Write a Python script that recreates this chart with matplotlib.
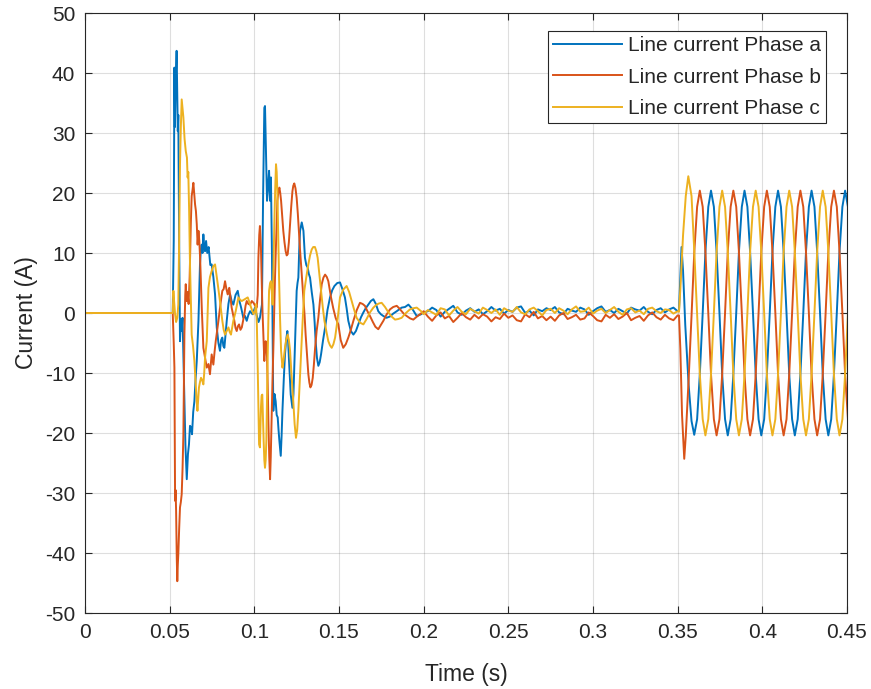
import matplotlib
matplotlib.use("Agg")
import matplotlib.pyplot as plt
import numpy as np

plt.rcParams["font.family"] = ["Liberation Sans", "DejaVu Sans"]
plt.rcParams["axes.unicode_minus"] = False

# ---------------------------------------------------------------------------
# Values (time in s, current in A)
# ---------------------------------------------------------------------------

# before the first fault: all three phases sit at zero
t_pre = [0.0, 0.0518]
i_pre = [0.0, 0.0]

# transient after the two switching events (0.052 s and 0.103 s)
ta_tr = [0.0518, 0.0524, 0.0528, 0.0531, 0.0535, 0.0541, 0.0545, 0.0548, 0.0551, 0.0556,
         0.0561, 0.0566, 0.0571, 0.0576, 0.0585, 0.0593, 0.0601, 0.0608, 0.0614, 0.0620,
         0.0626, 0.0632, 0.0639, 0.0646, 0.0653, 0.0660, 0.0670, 0.0679, 0.0684, 0.0689,
         0.0694, 0.0699, 0.0704, 0.0709, 0.0715, 0.0722, 0.0730, 0.0740, 0.0748, 0.0758,
         0.0768, 0.0778, 0.0788, 0.0797, 0.0804, 0.0811, 0.0817, 0.0823, 0.0830, 0.0837,
         0.0847, 0.0857, 0.0866, 0.0876, 0.0889, 0.0902, 0.0912, 0.0922, 0.0935, 0.0945,
         0.0955, 0.0965, 0.0975, 0.0989, 0.1004, 0.1015, 0.1025, 0.1033, 0.1045, 0.1052,
         0.1059, 0.1063, 0.1068, 0.1075, 0.1081, 0.1087, 0.1093, 0.1098, 0.1104, 0.1112,
         0.1119, 0.1126, 0.1132, 0.1138, 0.1143, 0.1148, 0.1156, 0.1161, 0.1166, 0.1174,
         0.1181, 0.1188, 0.1195, 0.1200, 0.1205, 0.1215, 0.1225, 0.1231, 0.1236, 0.1243,
         0.1250, 0.1255, 0.1260, 0.1265, 0.1270, 0.1280, 0.1290, 0.1299, 0.1307, 0.1315,
         0.1322, 0.1329, 0.1339, 0.1349, 0.1356, 0.1362, 0.1370, 0.1378, 0.1386, 0.1394,
         0.1406, 0.1418, 0.1432, 0.1447, 0.1460, 0.1473, 0.1490, 0.1506, 0.1520, 0.1535,
         0.1545, 0.1555, 0.1570, 0.1585, 0.1600, 0.1614, 0.1630, 0.1644, 0.1658, 0.1673,
         0.1688, 0.1703, 0.1718, 0.1732, 0.1747, 0.1762, 0.1780, 0.1800, 0.1820, 0.1841,
         0.1870, 0.1890, 0.1910, 0.1935, 0.1959, 0.1985, 0.2000]
ia_tr = [0.0, 12.0, 40.9, 31.0, 38.0, 43.7, 36.0, 30.3, 33.0, 12.0,
         -4.7, -1.0, -3.0, -0.8, -12.0, -22.0, -27.7, -23.5, -21.9, -18.8,
         -19.1, -20.2, -16.5, -14.7, -11.0, -8.0, -1.3, 8.1, 10.5, 11.4,
         10.0, 13.1, 11.0, 10.3, 12.0, 10.0, 11.0, 8.0, 8.1, 6.0,
         3.1, -2.4, -5.0, -6.3, -4.5, -4.1, -5.5, -5.8, -3.5, -1.3,
         1.5, 3.1, 2.0, 1.4, 3.0, 3.7, 2.0, 0.9, -0.8, -0.5,
         -1.3, -0.3, 0.3, -0.2, 0.9, -0.5, -1.5, -0.8, 1.4, 20.0,
         34.2, 34.5, 28.0, 18.7, 21.0, 23.7, 18.7, 22.6, 10.0, -16.3,
         -13.5, -14.7, -17.0, -17.4, -19.5, -21.3, -23.8, -20.5, -16.3, -11.0,
         -6.9, -4.5, -3.0, -5.0, -8.0, -13.6, -15.8, -13.5, -9.1, -3.0,
         3.7, 5.0, 5.9, 10.5, 13.7, 15.1, 13.7, 9.2, 8.0, 7.6,
         6.5, 5.9, 3.5, 1.4, -1.5, -4.7, -7.5, -8.8, -8.2, -6.9,
         -4.5, -2.4, 0.5, 2.6, 3.8, 4.5, 5.0, 5.1, 4.0, 2.6,
         0.8, -1.3, -3.0, -3.6, -3.0, -1.9, -0.7, 0.1, 0.8, 1.4,
         2.0, 2.3, 1.5, 0.3, -0.2, -0.5, -0.8, -0.6, -0.1, 0.3,
         0.9, 1.0, 1.4, 0.6, -0.5, -0.2, 0.1]

tb_tr = [0.0518, 0.0524, 0.0528, 0.0532, 0.0535, 0.0538, 0.0542, 0.0545, 0.0548, 0.0551,
         0.0556, 0.0561, 0.0566, 0.0571, 0.0576, 0.0581, 0.0587, 0.0592, 0.0595, 0.0600,
         0.0605, 0.0612, 0.0618, 0.0625, 0.0630, 0.0635, 0.0640, 0.0645, 0.0650, 0.0655,
         0.0660, 0.0665, 0.0670, 0.0675, 0.0680, 0.0690, 0.0699, 0.0709, 0.0719, 0.0729,
         0.0738, 0.0743, 0.0748, 0.0753, 0.0758, 0.0765, 0.0772, 0.0780, 0.0788, 0.0800,
         0.0811, 0.0819, 0.0827, 0.0835, 0.0843, 0.0848, 0.0852, 0.0859, 0.0866, 0.0875,
         0.0882, 0.0889, 0.0896, 0.0903, 0.0910, 0.0918, 0.0926, 0.0934, 0.0941, 0.0948,
         0.0955, 0.0965, 0.0975, 0.0985, 0.0995, 0.1005, 0.1014, 0.1020, 0.1024, 0.1029,
         0.1033, 0.1036, 0.1039, 0.1043, 0.1048, 0.1053, 0.1059, 0.1063, 0.1067, 0.1071,
         0.1075, 0.1079, 0.1083, 0.1088, 0.1093, 0.1097, 0.1102, 0.1107, 0.1112, 0.1117,
         0.1122, 0.1129, 0.1136, 0.1142, 0.1148, 0.1153, 0.1158, 0.1165, 0.1171, 0.1178,
         0.1185, 0.1191, 0.1197, 0.1204, 0.1211, 0.1218, 0.1225, 0.1230, 0.1236, 0.1243,
         0.1250, 0.1257, 0.1264, 0.1270, 0.1276, 0.1283, 0.1290, 0.1297, 0.1303, 0.1311,
         0.1319, 0.1325, 0.1331, 0.1338, 0.1345, 0.1352, 0.1359, 0.1368, 0.1378, 0.1388,
         0.1398, 0.1408, 0.1418, 0.1428, 0.1437, 0.1445, 0.1453, 0.1466, 0.1480, 0.1496,
         0.1510, 0.1525, 0.1540, 0.1555, 0.1570, 0.1585, 0.1605, 0.1624, 0.1640, 0.1653,
         0.1668, 0.1683, 0.1700, 0.1715, 0.1732, 0.1747, 0.1762, 0.1780, 0.1801, 0.1820,
         0.1841, 0.1855, 0.1870, 0.1885, 0.1900, 0.1920, 0.1939, 0.1960, 0.1979, 0.2000]
ib_tr = [0.0, -5.0, -9.1, -31.3, -29.5, -33.0, -41.0, -44.7, -42.0, -40.2,
         -36.0, -32.4, -31.5, -30.2, -26.0, -20.2, -3.6, 3.0, 4.8, 2.0,
         3.5, 1.5, 6.0, 15.0, 19.5, 20.5, 21.7, 20.0, 18.1, 17.0,
         14.8, 11.4, 13.7, 12.0, 9.0, 0.5, -5.8, -7.5, -9.1, -8.5,
         -10.2, -8.5, -6.9, -7.8, -8.6, -6.5, -4.7, -3.0, -1.3, 1.5,
         3.7, 4.0, 5.3, 4.0, 3.1, 3.8, 4.2, 2.5, 0.9, -0.3,
         -1.3, -2.5, -3.0, -2.2, -1.9, -2.8, -2.4, -1.2, -0.2, 1.2,
         2.0, 1.5, 1.4, 2.0, 1.7, 1.2, 0.9, 3.0, 9.2, 13.0,
         14.5, 12.5, 10.9, 5.9, 0.5, -3.6, -8.0, -5.5, -4.7, -6.0,
         -7.4, -12.0, -18.0, -24.0, -27.7, -24.0, -17.4, -11.5, -6.3, 0.0,
         5.9, 12.5, 18.7, 20.2, 20.9, 20.0, 18.7, 16.0, 13.7, 11.8,
         10.3, 9.6, 9.8, 11.8, 14.8, 17.8, 20.3, 21.2, 21.6, 20.8,
         19.2, 16.5, 13.1, 10.5, 8.1, 5.5, 2.6, -0.5, -3.6, -7.0,
         -10.2, -11.6, -12.4, -12.0, -10.8, -8.5, -5.8, -3.0, -0.8, 2.2,
         4.8, 5.9, 6.4, 6.0, 5.3, 4.0, 2.6, 0.8, -0.8, -1.9,
         -4.5, -5.8, -5.2, -4.1, -2.8, -1.3, 0.5, 1.7, 1.5, 1.2,
         0.3, -0.5, -1.5, -2.3, -2.7, -2.0, -1.3, -0.3, 0.6, 1.0,
         1.2, 0.8, 0.3, -0.2, -0.5, -0.9, -1.1, -0.6, -0.2, 0.3]

tc_tr = [0.0518, 0.0522, 0.0526, 0.0532, 0.0538, 0.0545, 0.0551, 0.0556, 0.0561, 0.0566,
         0.0571, 0.0576, 0.0581, 0.0588, 0.0595, 0.0602, 0.0606, 0.0610, 0.0615, 0.0620,
         0.0625, 0.0630, 0.0638, 0.0646, 0.0654, 0.0659, 0.0664, 0.0668, 0.0673, 0.0679,
         0.0685, 0.0692, 0.0699, 0.0704, 0.0709, 0.0719, 0.0724, 0.0729, 0.0738, 0.0748,
         0.0758, 0.0768, 0.0776, 0.0784, 0.0797, 0.0804, 0.0811, 0.0819, 0.0827, 0.0837,
         0.0847, 0.0855, 0.0862, 0.0869, 0.0876, 0.0890, 0.0906, 0.0916, 0.0926, 0.0943,
         0.0961, 0.0971, 0.0981, 0.0995, 0.1004, 0.1010, 0.1015, 0.1020, 0.1025, 0.1028,
         0.1033, 0.1036, 0.1039, 0.1043, 0.1047, 0.1051, 0.1055, 0.1059, 0.1063, 0.1067,
         0.1071, 0.1075, 0.1079, 0.1083, 0.1087, 0.1093, 0.1098, 0.1103, 0.1108, 0.1113,
         0.1118, 0.1123, 0.1128, 0.1132, 0.1136, 0.1141, 0.1146, 0.1152, 0.1158, 0.1166,
         0.1173, 0.1181, 0.1189, 0.1197, 0.1204, 0.1211, 0.1220, 0.1230, 0.1238, 0.1246,
         0.1253, 0.1260, 0.1268, 0.1276, 0.1285, 0.1295, 0.1307, 0.1319, 0.1329, 0.1339,
         0.1348, 0.1358, 0.1366, 0.1374, 0.1384, 0.1394, 0.1404, 0.1414, 0.1425, 0.1437,
         0.1447, 0.1457, 0.1467, 0.1477, 0.1492, 0.1506, 0.1525, 0.1545, 0.1560, 0.1575,
         0.1590, 0.1604, 0.1624, 0.1644, 0.1663, 0.1683, 0.1703, 0.1722, 0.1737, 0.1752,
         0.1772, 0.1792, 0.1811, 0.1831, 0.1850, 0.1870, 0.1895, 0.1919, 0.1940, 0.1959,
         0.1985, 0.2000]
ic_tr = [0.0, 3.7, 2.0, -0.2, -1.5, -0.8, 1.4, 12.0, 24.8, 31.0,
         35.6, 34.0, 32.6, 29.0, 27.0, 25.9, 22.6, 23.5, 17.0, 8.1,
         2.0, -3.6, -5.5, -8.0, -11.9, -14.5, -16.3, -14.5, -12.4, -11.5,
         -10.8, -11.2, -11.9, -10.0, -7.4, -4.7, 0.0, 4.2, 6.0, 7.0,
         7.8, 8.1, 6.5, 4.8, 2.0, 0.3, -1.3, -2.8, -3.6, -3.0,
         -2.4, -3.2, -3.6, -2.5, -1.3, 0.3, 2.6, 2.2, 2.0, 2.3,
         2.6, 1.8, 0.9, -0.2, 0.3, 1.5, -2.0, -9.1, -17.5, -21.9,
         -22.4, -19.0, -15.8, -13.8, -13.6, -17.5, -21.3, -24.5, -25.8, -24.5,
         -21.3, -14.0, -6.9, -1.0, 3.7, 5.0, 5.3, 3.5, 1.4, 7.5,
         14.8, 20.5, 24.8, 23.5, 20.3, 13.0, 5.9, -1.0, -6.3, -9.1,
         -7.8, -5.8, -4.3, -3.6, -4.5, -6.3, -10.5, -14.7, -18.5, -20.8,
         -19.5, -16.3, -11.5, -6.9, -1.5, 3.7, 6.0, 8.1, 9.6, 10.6,
         11.0, 11.0, 10.3, 9.2, 6.5, 3.7, 1.0, -1.3, -3.0, -4.7,
         -5.4, -5.8, -5.2, -4.1, -1.0, 2.6, 3.9, 4.5, 3.5, 2.0,
         0.5, -0.8, -1.6, -1.9, -1.0, 0.1, 0.9, 1.4, 1.6, 1.7,
         1.0, 0.1, -0.6, -1.1, -1.0, -0.8, 0.0, 0.6, 0.8, 0.9,
         0.3, -0.2]

# quiet interval 0.2 - 0.35 s: small ripple around zero, one sample every 2.5 ms
t_quiet = [0.2025, 0.2050, 0.2075, 0.2100, 0.2125, 0.2150, 0.2175, 0.2200, 0.2225, 0.2250,
           0.2275, 0.2300, 0.2325, 0.2350, 0.2375, 0.2400, 0.2425, 0.2450, 0.2475, 0.2500,
           0.2525, 0.2550, 0.2575, 0.2600, 0.2625, 0.2650, 0.2675, 0.2700, 0.2725, 0.2750,
           0.2775, 0.2800, 0.2825, 0.2850, 0.2875, 0.2900, 0.2925, 0.2950, 0.2975, 0.3000,
           0.3025, 0.3050, 0.3075, 0.3100, 0.3125, 0.3150, 0.3175, 0.3200, 0.3225, 0.3250,
           0.3275, 0.3300, 0.3325, 0.3350, 0.3375, 0.3400, 0.3425, 0.3450, 0.3475, 0.3500]
ia_quiet = [0.3, 0.9, 0.5, -0.6, 0.2, 0.7, 1.2, 0.1, -0.3, 0.4,
            0.8, 0.2, 0.6, -0.2, 0.3, 1.0, 0.4, 0.7, -0.1, 0.5,
            0.2, 0.9, 1.1, 0.0, 0.4, -0.4, 0.6, 0.3, 0.8, 0.5,
            1.0, 0.1, -0.2, 0.7, 0.4, 0.2, 0.9, 0.6, -0.3, 0.3,
            0.8, 1.1, 0.2, 0.5, 0.0, 0.7, 0.3, -0.1, 0.9, 0.6,
            0.4, 1.0, 0.2, -0.2, 0.5, 0.8, 0.1, 0.6, 0.9, 0.3]
ib_quiet = [-0.6, -1.3, -0.4, 0.1, -0.9, -0.5, -1.5, -0.8, 0.0, -0.7,
            -1.1, -0.3, -0.9, -0.2, -0.6, -1.4, -0.7, -1.0, -0.1, -0.8,
            -0.4, -1.2, -1.4, -0.2, -0.7, 0.2, -0.9, -0.5, -1.2, -0.6,
            -1.3, -0.4, 0.0, -1.0, -0.7, -0.3, -1.1, -0.9, 0.1, -0.5,
            -1.2, -1.4, -0.3, -0.8, -0.2, -1.0, -0.6, 0.0, -1.2, -0.8,
            -0.5, -1.3, -0.4, 0.1, -0.7, -1.1, -0.3, -0.9, -1.2, -0.4]
ic_quiet = [0.5, 0.1, -0.3, 0.8, 0.6, -0.4, 0.4, 1.0, 0.2, -0.2,
            0.7, 0.3, -0.1, 0.9, 0.5, 0.0, 0.6, -0.3, 0.8, 0.4,
            0.2, 1.0, 0.1, -0.2, 0.6, 0.9, 0.3, -0.4, 0.5, 0.7,
            0.0, 0.8, 0.4, -0.2, 0.6, 1.1, 0.2, 0.3, 0.9, -0.1,
            0.4, 0.7, 0.0, 0.5, 1.0, 0.2, -0.3, 0.6, 0.8, 0.1,
            0.4, -0.2, 0.7, 0.9, 0.3, 0.0, 0.6, 0.5, -0.1, 0.3]

# re-energising at ~0.351 s
ta_start = [0.3508, 0.3516, 0.3523, 0.3532, 0.3545, 0.3565, 0.3582, 0.3598]
ia_start = [0.4, 6.0, 11.0, 7.0, -2.0, -12.0, -18.0, -20.3]
tb_start = [0.3508, 0.3516, 0.3526, 0.3539, 0.3548, 0.3565, 0.3582, 0.3598]
ib_start = [-0.4, -6.0, -17.0, -24.3, -20.5, -11.0, -0.5, 10.0]
tc_start = [0.3508, 0.3516, 0.3532, 0.3548, 0.3563, 0.3582, 0.3598]
ic_start = [0.2, 4.0, 13.0, 19.5, 22.8, 19.5, 10.5]

# steady state 50 Hz, ~20.4 A peak, read every 1/12 of a period
t_ss = [0.3615, 0.3631, 0.3648, 0.3664, 0.3681, 0.3697, 0.3714, 0.3730, 0.3747, 0.3763,
        0.3780, 0.3796, 0.3813, 0.3829, 0.3846, 0.3862, 0.3879, 0.3895, 0.3912, 0.3928,
        0.3945, 0.3961, 0.3978, 0.3994, 0.4011, 0.4027, 0.4044, 0.4060, 0.4077, 0.4093,
        0.4110, 0.4126, 0.4143, 0.4159, 0.4176, 0.4192, 0.4209, 0.4225, 0.4242, 0.4258,
        0.4275, 0.4291, 0.4308, 0.4324, 0.4341, 0.4357, 0.4374, 0.4390, 0.4407, 0.4423,
        0.4440, 0.4456, 0.4473, 0.4489, 0.4506]
ia_ss = [-17.7, -10.2, 0.0, 10.2, 17.7, 20.4, 17.7, 10.2, 0.0, -10.2,
         -17.7, -20.4, -17.7, -10.2, 0.0, 10.2, 17.7, 20.4, 17.7, 10.2,
         0.0, -10.2, -17.7, -20.4, -17.7, -10.2, 0.0, 10.2, 17.7, 20.4,
         17.7, 10.2, 0.0, -10.2, -17.7, -20.4, -17.7, -10.2, 0.0, 10.2,
         17.7, 20.4, 17.7, 10.2, 0.0, -10.2, -17.7, -20.4, -17.7, -10.2,
         0.0, 10.2, 17.7, 20.4, 17.7]
ib_ss = [17.7, 20.4, 17.7, 10.2, 0.0, -10.2, -17.7, -20.4, -17.7, -10.2,
         0.0, 10.2, 17.7, 20.4, 17.7, 10.2, 0.0, -10.2, -17.7, -20.4,
         -17.7, -10.2, 0.0, 10.2, 17.7, 20.4, 17.7, 10.2, 0.0, -10.2,
         -17.7, -20.4, -17.7, -10.2, 0.0, 10.2, 17.7, 20.4, 17.7, 10.2,
         0.0, -10.2, -17.7, -20.4, -17.7, -10.2, 0.0, 10.2, 17.7, 20.4,
         17.7, 10.2, 0.0, -10.2, -17.7]
ic_ss = [0.0, -10.2, -17.7, -20.4, -17.7, -10.2, 0.0, 10.2, 17.7, 20.4,
         17.7, 10.2, 0.0, -10.2, -17.7, -20.4, -17.7, -10.2, 0.0, 10.2,
         17.7, 20.4, 17.7, 10.2, 0.0, -10.2, -17.7, -20.4, -17.7, -10.2,
         0.0, 10.2, 17.7, 20.4, 17.7, 10.2, 0.0, -10.2, -17.7, -20.4,
         -17.7, -10.2, 0.0, 10.2, 17.7, 20.4, 17.7, 10.2, 0.0, -10.2,
         -17.7, -20.4, -17.7, -10.2, 0.0]

labels = ["Line current Phase a", "Line current Phase b", "Line current Phase c"]
colors = ["#0072BD", "#D95319", "#EDB120"]

x_ticks = [0, 0.05, 0.1, 0.15, 0.2, 0.25, 0.3, 0.35, 0.4, 0.45]
x_tick_labels = ["0", "0.05", "0.1", "0.15", "0.2", "0.25", "0.3", "0.35", "0.4", "0.45"]
y_ticks = [-50, -40, -30, -20, -10, 0, 10, 20, 30, 40, 50]

# ---------------------------------------------------------------------------
phases = [
    (t_pre + ta_tr + t_quiet + ta_start + t_ss, i_pre + ia_tr + ia_quiet + ia_start + ia_ss),
    (t_pre + tb_tr + t_quiet + tb_start + t_ss, i_pre + ib_tr + ib_quiet + ib_start + ib_ss),
    (t_pre + tc_tr + t_quiet + tc_start + t_ss, i_pre + ic_tr + ic_quiet + ic_start + ic_ss),
]

fig = plt.figure(figsize=(8.71, 6.89), dpi=100)
ax = fig.add_axes([0.0976, 0.1103, 0.8748, 0.8708])

for (t, i), lab, col in zip(phases, labels, colors):
    ax.plot(np.array(t), np.array(i), color=col, lw=1.4, label=lab)

ax.set_xlim(0, 0.45)
ax.set_ylim(-50, 50)
ax.set_xticks(x_ticks)
ax.set_xticklabels(x_tick_labels)
ax.set_yticks(y_ticks)
ax.grid(True, color="#262626", alpha=0.15, lw=0.8)
ax.set_axisbelow(True)

ax.tick_params(direction="in", top=True, right=True, length=5, width=0.8,
               colors="#262626", labelsize=15, pad=7)
for sp in ax.spines.values():
    sp.set_color("#262626")
    sp.set_linewidth(0.8)

ax.set_xlabel("Time (s)", fontsize=16.5, color="#262626", labelpad=15)
ax.set_ylabel("Current (A)", fontsize=16.5, color="#262626", labelpad=5)

leg = ax.legend(loc="upper right", bbox_to_anchor=(0.973, 0.97), borderaxespad=0,
                fontsize=15, handlelength=3.3, handletextpad=0.3, labelspacing=0.6,
                borderpad=0.25, fancybox=False, framealpha=1)
leg.get_frame().set_edgecolor("#262626")
leg.get_frame().set_linewidth(0.8)
for txt in leg.get_texts():
    txt.set_color("#262626")

fig.savefig("out.png", dpi=100)
